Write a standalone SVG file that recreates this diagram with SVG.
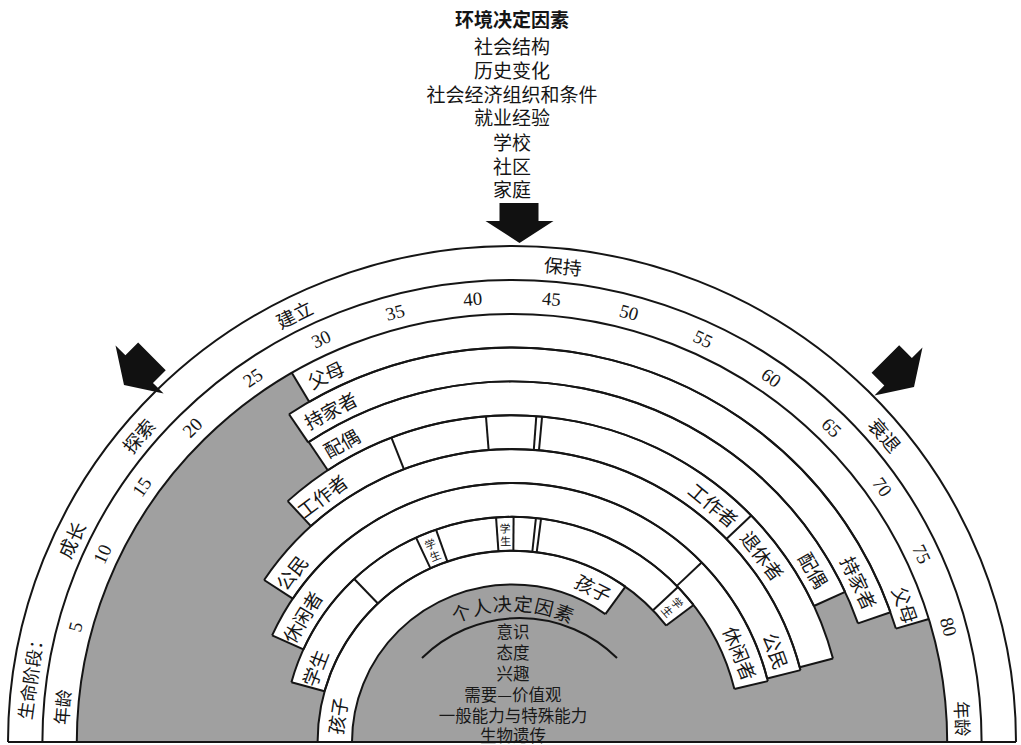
<svg xmlns="http://www.w3.org/2000/svg" width="1021" height="745" viewBox="0 0 1021 745">
<style>
.ln{fill:none;stroke:#151515;stroke-width:2}
.wb{fill:none;stroke:#fff;stroke-width:34.4}
.t{font-family:"Liberation Serif","Noto Sans CJK SC",serif;font-size:19px;fill:#151515;text-anchor:middle;dominant-baseline:central}
.cj{font-family:"Noto Sans CJK SC",sans-serif}
.sm{font-size:11px}
.it{font-family:"Noto Sans CJK SC",sans-serif;font-size:16.5px;fill:#181818;text-anchor:middle;dominant-baseline:central}
</style>
<defs>
<path id="arw" d="M-20,-40 H19 V-22 H34 L0,0 L-34,-22 H-20 Z" fill="#111"/>
</defs>
<rect width="1021" height="745" fill="#fff"/>

<g id="env-determinants">
<text class="t cj" x="512" y="18" font-size="21" font-weight="bold">环境决定因素</text>
<text class="t cj" x="512" y="45" font-size="21">社会结构</text>
<text class="t cj" x="512" y="69" font-size="21">历史变化</text>
<text class="t cj" x="512" y="93" font-size="21">社会经济组织和条件</text>
<text class="t cj" x="512" y="116" font-size="21">就业经验</text>
<text class="t cj" x="512" y="141" font-size="21">学校</text>
<text class="t cj" x="512" y="165" font-size="21">社区</text>
<text class="t cj" x="512" y="188" font-size="21">家庭</text>
</g>

<g id="arrows">
<use href="#arw" transform="translate(519.5,243)"/>
<use href="#arw" transform="translate(124,385) rotate(45)"/>
<use href="#arw" transform="translate(914,387) rotate(-45)"/>
</g>

<g id="rainbow" transform="translate(512,742) scale(1,0.984)">
<path d="M-435.2,0 A435.2,435.2 0 0 1 435.2,0 Z" fill="#a0a0a0"/>

<g id="band-fills">
<circle r="418" class="wb" pathLength="360" stroke-dasharray="103.7 400" transform="rotate(-120.4)"/>
<circle r="383.6" class="wb" pathLength="360" stroke-dasharray="104.6 400" transform="rotate(-123.8)"/>
<circle r="349.2" class="wb" pathLength="360" stroke-dasharray="99.1 400" transform="rotate(-123.7)"/>
<circle r="314.8" class="wb" pathLength="360" stroke-dasharray="117.7 400" transform="rotate(-132.5)"/>
<circle r="280.4" class="wb" pathLength="360" stroke-dasharray="132.2 400" transform="rotate(-146.4)"/>
<circle r="246" class="wb" pathLength="360" stroke-dasharray="142.1 400" transform="rotate(-155.7)"/>
<circle r="211.6" class="wb" pathLength="360" stroke-dasharray="127.1 400" transform="rotate(-164.6)"/>
<circle r="177.2" class="wb" pathLength="360" stroke-dasharray="125.7 400" transform="rotate(-180)"/>
</g>

<g id="outer-arcs" class="ln">
<path d="M-504,0 A504,504 0 0 1 504,0"/>
<path d="M-469.6,0 A469.6,469.6 0 0 1 469.6,0"/>
<path d="M-435.2,0 A435.2,435.2 0 0 1 435.2,0"/>
</g>

<g id="parent" class="ln">
<circle r="400.8" pathLength="360" stroke-dasharray="103.7 400" transform="rotate(-120.4)"/>
<line x1="400.8" x2="435.2" transform="rotate(-120.4)"/>
<line x1="400.8" x2="435.2" transform="rotate(-16.7)"/>
</g>
<g id="homemaker" class="ln">
<circle r="400.8" pathLength="360" stroke-dasharray="104.6 400" transform="rotate(-123.8)"/>
<circle r="366.4" pathLength="360" stroke-dasharray="104.6 400" transform="rotate(-123.8)"/>
<line x1="366.4" x2="400.8" transform="rotate(-123.8)"/>
<line x1="366.4" x2="400.8" transform="rotate(-19.2)"/>
</g>
<g id="spouse" class="ln">
<circle r="366.4" pathLength="360" stroke-dasharray="99.1 400" transform="rotate(-123.7)"/>
<circle r="332" pathLength="360" stroke-dasharray="99.1 400" transform="rotate(-123.7)"/>
<line x1="332" x2="366.4" transform="rotate(-123.7)"/>
<line x1="332" x2="366.4" transform="rotate(-24.6)"/>
</g>
<g id="worker" class="ln">
<circle r="332" pathLength="360" stroke-dasharray="117.7 400" transform="rotate(-132.5)"/>
<circle r="297.6" pathLength="360" stroke-dasharray="117.7 400" transform="rotate(-132.5)"/>
<line x1="297.6" x2="332" transform="rotate(-132.5)"/>
<line x1="297.6" x2="332" transform="rotate(-111.3)"/>
<line x1="297.6" x2="332" transform="rotate(-94.5)"/>
<line x1="297.6" x2="332" transform="rotate(-85.8)"/>
<line x1="297.6" x2="332" transform="rotate(-84.8)"/>
<line x1="297.6" x2="332" transform="rotate(-43.9)"/>
<line x1="297.6" x2="332" transform="rotate(-14.8)"/>
</g>
<g id="citizen" class="ln">
<circle r="297.6" pathLength="360" stroke-dasharray="132.2 400" transform="rotate(-146.4)"/>
<circle r="263.2" pathLength="360" stroke-dasharray="132.2 400" transform="rotate(-146.4)"/>
<line x1="263.2" x2="297.6" transform="rotate(-146.4)"/>
<line x1="263.2" x2="297.6" transform="rotate(-14.2)"/>
</g>
<g id="leisurite" class="ln">
<circle r="263.2" pathLength="360" stroke-dasharray="142.1 400" transform="rotate(-155.7)"/>
<circle r="228.8" pathLength="360" stroke-dasharray="142.1 400" transform="rotate(-155.7)"/>
<line x1="228.8" x2="263.2" transform="rotate(-155.7)"/>
<line x1="228.8" x2="263.2" transform="rotate(-43.9)"/>
<line x1="228.8" x2="263.2" transform="rotate(-13.6)"/>
</g>
<g id="student" class="ln">
<circle r="228.8" pathLength="360" stroke-dasharray="127.1 400" transform="rotate(-164.6)"/>
<circle r="194.4" pathLength="360" stroke-dasharray="127.1 400" transform="rotate(-164.6)"/>
<line x1="194.4" x2="228.8" transform="rotate(-164.6)"/>
<line x1="194.4" x2="228.8" transform="rotate(-133.6)"/>
<line x1="194.4" x2="228.8" transform="rotate(-114.8)"/>
<line x1="194.4" x2="228.8" transform="rotate(-109.4)"/>
<line x1="194.4" x2="228.8" transform="rotate(-94)"/>
<line x1="194.4" x2="228.8" transform="rotate(-89.6)"/>
<line x1="194.4" x2="228.8" transform="rotate(-84)"/>
<line x1="194.4" x2="228.8" transform="rotate(-82.7)"/>
<line x1="194.4" x2="228.8" transform="rotate(-43.5)"/>
<line x1="194.4" x2="228.8" transform="rotate(-37.5)"/>
</g>
<g id="child" class="ln">
<circle r="194.4" pathLength="360" stroke-dasharray="125.7 400" transform="rotate(-180)"/>
<circle r="160" pathLength="360" stroke-dasharray="125.7 400" transform="rotate(-180)"/>
<line x1="160" x2="194.4" transform="rotate(-54.3)"/>
</g>

<g id="stage-labels" class="t cj">
<text transform="rotate(-172) translate(487,0) rotate(90)" font-size="18">生命阶段：</text>
<text transform="rotate(-155) translate(487,0) rotate(90)">成长</text>
<text transform="rotate(-140.2) translate(487,0) rotate(90)">探索</text>
<text transform="rotate(-116.6) translate(487,0) rotate(90)">建立</text>
<text transform="rotate(-84) translate(487,0) rotate(90)">保持</text>
<text transform="rotate(-39.9) translate(487,0) rotate(90)">衰退</text>
</g>

<g id="age-labels" class="t">
<text class="cj" transform="rotate(-175.5) translate(452,0) rotate(90)" font-size="18">年龄</text>
<text transform="rotate(-165) translate(452,0) rotate(90)">5</text>
<text transform="rotate(-155) translate(452,0) rotate(90)">10</text>
<text transform="rotate(-145) translate(452,0) rotate(90)">15</text>
<text transform="rotate(-135) translate(452,0) rotate(90)">20</text>
<text transform="rotate(-125) translate(452,0) rotate(90)">25</text>
<text transform="rotate(-115) translate(452,0) rotate(90)">30</text>
<text transform="rotate(-105) translate(452,0) rotate(90)">35</text>
<text transform="rotate(-95) translate(452,0) rotate(90)">40</text>
<text transform="rotate(-85) translate(452,0) rotate(90)">45</text>
<text transform="rotate(-75) translate(452,0) rotate(90)">50</text>
<text transform="rotate(-65) translate(452,0) rotate(90)">55</text>
<text transform="rotate(-55) translate(452,0) rotate(90)">60</text>
<text transform="rotate(-45) translate(452,0) rotate(90)">65</text>
<text transform="rotate(-35) translate(452,0) rotate(90)">70</text>
<text transform="rotate(-25) translate(452,0) rotate(90)">75</text>
<text transform="rotate(-15) translate(452,0) rotate(90)">80</text>
<text class="cj" transform="rotate(-3) translate(452,0) rotate(90)" font-size="18">年龄</text>
</g>

<g id="role-labels" class="t cj">
<text transform="rotate(-116.5) translate(418,0) rotate(90)">父母</text>
<text transform="rotate(-118.3) translate(383.6,0) rotate(90)">持家者</text>
<text transform="rotate(-119.3) translate(349.2,0) rotate(90)">配偶</text>
<text transform="rotate(-127.2) translate(314.8,0) rotate(90)">工作者</text>
<text transform="rotate(-142) translate(280.4,0) rotate(90)">公民</text>
<text transform="rotate(-148.8) translate(246,0) rotate(90)">休闲者</text>
<text transform="rotate(-159.1) translate(211.6,0) rotate(90)">学生</text>
<text transform="rotate(-171.3) translate(177.2,0) rotate(90)">孩子</text>
<text transform="rotate(-19.5) translate(418,0) rotate(90)">父母</text>
<text transform="rotate(-25) translate(383.6,0) rotate(90)">持家者</text>
<text transform="rotate(-30.1) translate(349.2,0) rotate(90)">配偶</text>
<text transform="rotate(-50.1) translate(314.8,0) rotate(90)">工作者</text>
<text transform="rotate(-37.1) translate(314.8,0) rotate(90)">退休者</text>
<text transform="rotate(-19.3) translate(280.4,0) rotate(90)">公民</text>
<text transform="rotate(-21.6) translate(246,0) rotate(90)">休闲者</text>
<text transform="rotate(-62.5) translate(177.2,0) rotate(90)">孩子</text>
</g>
<g id="student-tabs" class="t cj sm">
<text transform="rotate(-112.1) translate(218,0) rotate(90)">学</text>
<text transform="rotate(-112.1) translate(205,0) rotate(90)">生</text>
<text transform="rotate(-91.8) translate(218,0) rotate(90)">学</text>
<text transform="rotate(-91.8) translate(205,0) rotate(90)">生</text>
<text transform="rotate(-40.5) translate(218,0) rotate(90)">学</text>
<text transform="rotate(-40.5) translate(205,0) rotate(90)">生</text>
</g>

<g id="personal-title" class="t cj" font-size="20">
<text transform="rotate(-111.2) translate(142,0) rotate(90)">个</text>
<text transform="rotate(-102.6) translate(142,0) rotate(90)">人</text>
<text transform="rotate(-94) translate(142,0) rotate(90)">决</text>
<text transform="rotate(-85.4) translate(142,0) rotate(90)">定</text>
<text transform="rotate(-76.8) translate(142,0) rotate(90)">因</text>
<text transform="rotate(-68.2) translate(142,0) rotate(90)">素</text>
</g>
</g>

<g id="personal-determinants">
<path class="ln" d="M422,658 A139,139 0 0 1 617,658"/>
<text class="it" x="513" y="631">意识</text>
<text class="it" x="513" y="652">态度</text>
<text class="it" x="513" y="673">兴趣</text>
<text class="it" x="513" y="694">需要—价值观</text>
<text class="it" x="513" y="715">一般能力与特殊能力</text>
<text class="it" x="513" y="735">生物遗传</text>
</g>

<line id="baseline" class="ln" x1="8" y1="742" x2="1016" y2="742"/>
</svg>
